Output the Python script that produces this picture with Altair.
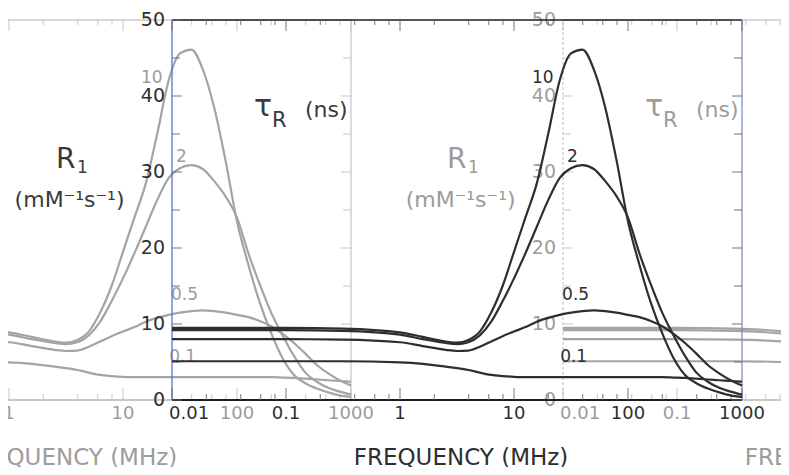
import altair as alt
import pandas as pd

# ---------------- values ----------------
FREQ_MHZ = [0.01, 0.0316, 0.1, 0.316, 1.0, 1.585, 2.512, 3.162, 3.981, 5.012,
            6.310, 7.943, 10.0, 12.59, 15.85, 19.95, 25.12, 31.62, 39.81, 50.12,
            63.10, 79.43, 100.0, 125.9, 158.5, 199.5, 251.2, 316.2, 398.1, 501.2,
            631.0, 794.3, 1000.0]
R1_TAU_10 = [9.5, 9.5, 9.5, 9.4, 8.9, 8.3, 7.7, 7.55, 7.9, 9.0,
             11.5, 15.0, 19.5, 24.0, 28.5, 35.0, 42.0, 45.6, 46.1, 43.5,
             38.5, 31.5, 23.5, 17.8, 12.8, 8.8, 5.5, 3.3, 2.2, 1.5,
             1.0, 0.6, 0.4]
R1_TAU_2 = [9.2, 9.2, 9.2, 9.1, 8.6, 8.0, 7.5, 7.35, 7.6, 8.5,
            10.3, 13.0, 16.0, 19.3, 22.8, 26.3, 29.2, 30.5, 30.9, 30.4,
            28.8, 26.8, 24.0, 19.3, 15.2, 11.5, 8.5, 5.8, 3.6, 2.4,
            1.6, 1.1, 0.7]
R1_TAU_05 = [8.0, 8.0, 8.0, 7.95, 7.6, 7.1, 6.6, 6.45, 6.5, 7.0,
             7.7, 8.4, 9.0, 9.6, 10.3, 10.8, 11.2, 11.5, 11.7, 11.8,
             11.7, 11.5, 11.2, 10.9, 10.4, 9.7, 8.7, 7.5, 6.1, 4.6,
             3.5, 2.6, 1.9]
R1_TAU_01 = [5.1, 5.1, 5.1, 5.1, 4.95, 4.75, 4.4, 4.2, 3.95, 3.6,
             3.3, 3.15, 3.05, 3.0, 3.0, 3.0, 3.0, 3.0, 3.0, 3.0,
             3.0, 3.0, 3.0, 3.0, 3.0, 3.0, 2.95, 2.9, 2.8, 2.7,
             2.6, 2.5, 2.4]
TAU_NS = ["10", "2", "0.5", "0.1"]
TAU_LABEL_FREQ = [14.4, 29.2, 26.4, 25.4]
TAU_LABEL_R1 = [42.4, 32.0, 13.8, 5.7]

X_MAJOR = [0.01, 0.1, 1, 10, 100, 1000]
X_MINOR = [m * d for d in [0.01, 0.1, 1, 10, 100] for m in (2, 4, 6, 8)]
Y_MAJOR = [0, 10, 20, 30, 40, 50]
Y_MINOR = [5, 15, 25, 35, 45]
X_TITLE = "FREQUENCY (MHz)"

for s in (R1_TAU_10, R1_TAU_2, R1_TAU_05, R1_TAU_01):
    assert len(s) == len(FREQ_MHZ)

# ---------------- layout / style ----------------
W, H = 773, 380
SHIFT = 3.43                    # decades between the overlaid copies
X_DOMAIN = [10 ** -3.4386, 10 ** 3.3421]
FONT = "DejaVu Sans"
DARK = "#2e2e2e"
GREY = "#a4a4a4"
TXT_GREY = "#9c9c9c"
BLUE = "#5a6ee0"

xs = alt.Scale(type="log", domain=X_DOMAIN, nice=False)
ys = alt.Scale(domain=[0, 50], nice=False, zero=False)

curves = pd.DataFrame({
    "f": FREQ_MHZ * 4,
    "R1": R1_TAU_10 + R1_TAU_2 + R1_TAU_05 + R1_TAU_01,
    "tau": sum([[t] * len(FREQ_MHZ) for t in TAU_NS], []),
})
frame = pd.DataFrame({"f": [0.01], "f2": [1000.0]})
xmaj = pd.DataFrame({"f": X_MAJOR})
xmin = pd.DataFrame({"f": X_MINOR})
ymaj = pd.DataFrame({"v": Y_MAJOR})
ymin = pd.DataFrame({"v": Y_MINOR})
taulab = pd.DataFrame({"f": TAU_LABEL_FREQ, "R1": TAU_LABEL_R1, "t": TAU_NS})


def sh(df, shift):
    c = alt.Chart(df).transform_calculate(fs=f"datum.f * pow(10, {shift})")
    if "f2" in df:
        c = c.transform_calculate(fs2=f"datum.f2 * pow(10, {shift})")
    return c


def XF(field="fs"):
    return alt.X(f"{field}:Q", scale=xs, axis=None)


def YF(field):
    return alt.Y(f"{field}:Q", scale=ys, axis=None)


def XD(v):
    return alt.X(datum=v, scale=xs, axis=None)


def YD(v):
    return alt.Y(datum=v, scale=ys, axis=None)


def copy_layers(shift, main):
    k = 10 ** shift
    line_c = DARK if main else GREY
    frame_c = "#1e1e1e" if main else "#b4b4b4"
    tick_c = "#6a6a6a" if main else "#c2c2c2"
    txt_c = DARK if main else TXT_GREY
    note_c = TXT_GREY if main else "#3a3a3a"
    L = []
    # frame: bottom, top, left, right
    L.append(sh(frame, shift).mark_rule(color=frame_c, strokeWidth=1.8 if main else 1.4)
             .encode(x=XF("fs"), x2="fs2:Q", y=YD(0)))
    L.append(sh(frame, shift).mark_rule(color=frame_c, strokeWidth=1.6 if main else 1.2)
             .encode(x=XF("fs"), x2="fs2:Q", y=YD(50)))
    if main:
        L.append(sh(frame, shift).mark_rule(color=BLUE, strokeWidth=1.3)
                 .encode(x=XF("fs"), y=YD(0), y2=alt.Y2(datum=50)))
    else:
        L.append(sh(frame, shift).mark_rule(color="#c6c8d8", strokeWidth=1.2, strokeDash=[3, 2])
                 .encode(x=XF("fs"), y=YD(0), y2=alt.Y2(datum=50)))
    L.append(sh(frame, shift).mark_rule(color="#7e8cd8" if main else "#c3c6dc", strokeWidth=1.3)
             .encode(x=XF("fs2"), y=YD(0), y2=alt.Y2(datum=50)))
    # x ticks (inward) on bottom and top
    for df, size in ((xmaj, 12), (xmin, 6)):
        L.append(sh(df, shift).mark_tick(orient="vertical", size=size, thickness=1.3,
                                         yOffset=-size / 2, color=tick_c)
                 .encode(x=XF("fs"), y=YD(0)))
        L.append(sh(df, shift).mark_tick(orient="vertical", size=size - 1, thickness=1.3,
                                         yOffset=(size - 1) / 2, color=tick_c)
                 .encode(x=XF("fs"), y=YD(50)))
    # y ticks (inward) on left and right frame edges
    for df, size in ((ymaj, 10), (ymin, 8)):
        L.append(alt.Chart(df).mark_tick(orient="horizontal", size=size, thickness=1.3,
                                         xOffset=size / 2, color=tick_c)
                 .encode(x=XD(0.01 * k), y=YF("v")))
        L.append(alt.Chart(df).mark_tick(orient="horizontal", size=size, thickness=1.3,
                                         xOffset=-size / 2, color=tick_c)
                 .encode(x=XD(1000 * k), y=YF("v")))
    # R1 curves
    L.append(sh(curves, shift).mark_line(color=line_c, strokeWidth=2.2, interpolate="monotone")
             .encode(x=XF("fs"), y=YF("R1"), detail="tau:N"))
    # tick labels, y labels and x title
    L.append(sh(xmaj, shift).transform_filter("datum.f > 0.05")
             .mark_text(font=FONT, fontSize=18, color=txt_c, baseline="top", dy=5)
             .encode(x=XF("fs"), y=YD(0), text=alt.Text("f:Q", format="~g")))
    L.append(sh(xmaj, shift).transform_filter("datum.f < 0.05")
             .mark_text(font=FONT, fontSize=18, color=txt_c, baseline="top", dy=5,
                        align="left", dx=-3)
             .encode(x=XF("fs"), y=YD(0), text=alt.Text("f:Q", format="~g")))
    L.append(alt.Chart(ymaj).mark_text(font=FONT, fontSize=19, color=txt_c, align="right",
                                       baseline="middle", dx=-7)
             .encode(x=XD(0.01 * k), y=YF("v"), text="v:Q"))
    L.append(alt.Chart(frame).mark_text(text=X_TITLE, font=FONT, fontSize=23, color=txt_c,
                                        baseline="middle", dy=58)
             .encode(x=XD(3.43 * k), y=YD(0)))
    # curve labels (tau_R values)
    L.append(sh(taulab, shift).mark_text(font=FONT, fontSize=17, color=txt_c, align="left",
                                         baseline="middle")
             .encode(x=XF("fs"), y=YF("R1"), text="t:N"))
    # R1 (mM-1 s-1) and tau_R (ns)
    L.append(alt.Chart(frame).mark_text(text="R", font=FONT, fontSize=28, color=note_c,
                                        align="left", baseline="middle")
             .encode(x=XD(2.58 * k), y=YD(31.6)))
    L.append(alt.Chart(frame).mark_text(text="1", font=FONT, fontSize=17, color=note_c,
                                        align="left", baseline="middle")
             .encode(x=XD(3.95 * k), y=YD(30.5)))
    L.append(alt.Chart(frame).mark_text(text="(mM⁻¹s⁻¹)", font=FONT, fontSize=22, color=note_c,
                                        align="center", baseline="middle")
             .encode(x=XD(3.4 * k), y=YD(26.3)))
    L.append(alt.Chart(frame).mark_text(text="τ", font=FONT, fontSize=30, color=note_c,
                                        align="left", baseline="middle")
             .encode(x=XD(141 * k), y=YD(38.6)))
    L.append(alt.Chart(frame).mark_text(text="R", font=FONT, fontSize=21, color=note_c,
                                        align="left", baseline="middle")
             .encode(x=XD(203 * k), y=YD(36.7)))
    L.append(alt.Chart(frame).mark_text(text="(ns)", font=FONT, fontSize=22, color=note_c,
                                        align="left", baseline="middle")
             .encode(x=XD(395 * k), y=YD(38.2)))
    return L


layers = copy_layers(-SHIFT, False) + copy_layers(SHIFT, False) + copy_layers(0.0, True)

chart = alt.layer(*layers).properties(
    width=W, height=H,
    padding={"left": 0, "top": 12, "right": 0, "bottom": 67},
    autosize=alt.AutoSizeParams(type="none"),
    background="white",
).configure_view(stroke=None)

chart.save("out.html", embed_options={"renderer": "svg", "actions": False})
